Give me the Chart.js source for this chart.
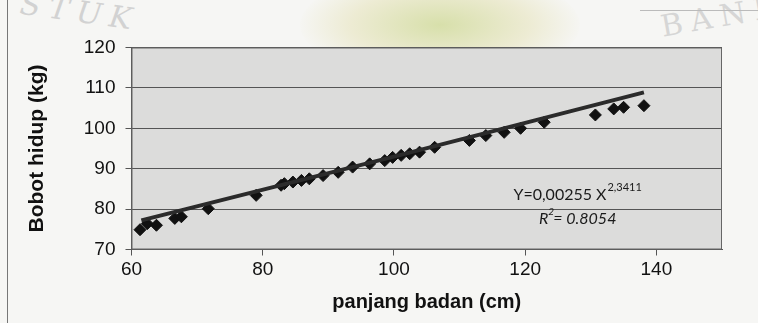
<!DOCTYPE html>
<html>
<head>
<meta charset="utf-8">
<script src="https://cdn.jsdelivr.net/npm/chart.js@4/dist/chart.umd.min.js"></script>
<style>
  html,body{margin:0;padding:0;background:#f6f6f4;}
  #wrap{position:relative;width:758px;height:323px;overflow:hidden;}
  #frame{position:absolute;left:7px;top:0;width:1px;height:323px;background:#777;}
  #wm1{position:absolute;left:20px;top:-6px;font:italic 30px "DejaVu Serif",serif;color:#d2d2d2;letter-spacing:8px;transform:rotate(8deg);}
  #wm2{position:absolute;left:660px;top:-2px;font:30px "DejaVu Serif",serif;color:#d6d6d6;letter-spacing:8px;transform:rotate(-10deg);}
  #wmline{position:absolute;left:640px;top:10px;width:118px;height:1px;background:#bbb;}
  #blob{position:absolute;left:300px;top:-30px;width:280px;height:110px;border-radius:50%;background:radial-gradient(ellipse at center, rgba(190,205,110,0.55) 0%, rgba(220,215,150,0.35) 45%, rgba(246,246,244,0) 72%);}
  canvas{position:absolute;left:0;top:0;}
</style>
</head>
<body>
<div id="wrap">
  <div id="blob"></div>
  <div id="wm1">STUK</div>
  <div id="wm2">BAND</div>
  <div id="wmline"></div>
  <div id="frame"></div>
  <canvas id="c" width="758" height="323"></canvas>
</div>
<script>
// panjang badan (cm)
const panjangBadan = [61.3, 62.4, 63.8, 66.6, 67.6, 71.7, 79.0, 82.8, 83.3, 84.6, 85.9, 87.1, 89.2, 91.5, 93.7, 96.3, 98.6, 99.8, 101.1, 102.4, 103.9, 106.2, 111.5, 114.0, 116.8, 119.3, 122.9, 130.7, 133.5, 135.0, 138.1];
// bobot hidup (kg)
const bobotHidup = [74.9, 76.4, 76.0, 77.7, 78.1, 80.1, 83.4, 85.9, 86.3, 86.7, 87.1, 87.5, 88.3, 89.1, 90.4, 91.2, 92.0, 92.8, 93.3, 93.7, 94.1, 95.3, 97.0, 98.2, 99.0, 100.0, 101.5, 103.3, 104.8, 105.2, 105.6];
// trendline
const trendX = [61.5, 100, 138.1];
const trendY = [77.2, 93.0, 108.9];
const xTicks = [60, 80, 100, 120, 140];
const yTicks = [70, 80, 90, 100, 110, 120];
const equationText = "Y=0,00255 X";
const equationExp = "2,3411";
const r2Text = "= 0.8054";

const pts = panjangBadan.map((x, i) => ({x, y: bobotHidup[i]}));
const trend = trendX.map((x, i) => ({x, y: trendY[i]}));

const FONT = "'Liberation Sans', Arial, sans-serif";
const EQF = "Lato, 'Open Sans', sans-serif";

const bgPlugin = {
  id: 'plotbg',
  beforeDraw(chart) {
    const {ctx, chartArea: a} = chart;
    ctx.save();
    ctx.fillStyle = '#dcdcdb';
    ctx.fillRect(a.left, a.top, a.right - a.left, a.bottom - a.top);
    ctx.restore();
  },
  afterDatasetsDraw(chart) {
    const {ctx, chartArea: a} = chart;
    ctx.save();
    ctx.strokeStyle = '#666';
    ctx.lineWidth = 1;
    ctx.strokeRect(a.left + 0.5, a.top + 0.5, a.right - a.left - 1, a.bottom - a.top - 1);
    ctx.restore();
  }
};

const eqPlugin = {
  id: 'eq',
  afterDatasetsDraw(chart) {
    const {ctx, scales: {x, y}} = chart;
    ctx.save();
    ctx.fillStyle = '#1a1a1a';
    ctx.textBaseline = 'alphabetic';
    ctx.textAlign = 'left';
    const cx = x.getPixelForValue(128);
    ctx.font = "16px " + EQF;
    const w1 = ctx.measureText(equationText).width;
    ctx.font = "11px " + EQF;
    const w2 = ctx.measureText(equationExp).width;
    const start = cx - (w1 + w2 + 1) / 2;
    const y1 = y.getPixelForValue(82.2);
    ctx.font = "16px " + EQF;
    ctx.fillText(equationText, start, y1);
    ctx.font = "11px " + EQF;
    ctx.fillText(equationExp, start + w1 + 1, y1 - 9);
    const y2 = y.getPixelForValue(76.3);
    ctx.font = "italic 16px " + EQF;
    const wr = ctx.measureText('R').width;
    const wrest = ctx.measureText(r2Text).width;
    const s2 = cx - (wr + 5 + wrest) / 2;
    ctx.fillText('R', s2, y2);
    ctx.font = "italic 10px " + EQF;
    ctx.fillText('2', s2 + wr, y2 - 9);
    ctx.font = "italic 16px " + EQF;
    ctx.fillText(r2Text, s2 + wr + 5, y2);
    ctx.restore();
  }
};

new Chart(document.getElementById('c'), {
  type: 'scatter',
  data: {
    datasets: [
      {
        label: 'data',
        data: pts,
        pointStyle: 'rectRot',
        pointRadius: 6,
        pointHoverRadius: 6,
        backgroundColor: '#111',
        borderColor: '#111',
        borderWidth: 1,
        order: 2
      },
      {
        label: 'trend',
        data: trend,
        showLine: true,
        pointRadius: 0,
        borderColor: '#2b2b2b',
        borderWidth: 4,
        tension: 0,
        order: 1
      }
    ]
  },
  options: {
    responsive: false,
    animation: false,
    events: [],
    layout: {padding: {left: 0, right: 36, top: 47.5, bottom: 0}},
    plugins: {legend: {display: false}, tooltip: {enabled: false}},
    scales: {
      x: {
        type: 'linear',
        min: 60, max: 150,
        afterFit(s) { s.height = 73.5; },
        afterBuildTicks(s) { s.ticks = xTicks.map(v => ({value: v})); },
        grid: {display: true, drawOnChartArea: false, drawTicks: true, tickLength: 6, color: '#555', tickColor: '#555'},
        border: {display: true, color: '#555', width: 1},
        ticks: {color: '#111', font: {family: FONT, size: 19}, padding: 3, maxRotation: 0},
        title: {display: true, text: 'panjang badan (cm)', color: '#111', font: {family: FONT, size: 20, weight: 'bold'}, padding: {top: 2, bottom: 9}}
      },
      y: {
        type: 'linear',
        min: 70, max: 120,
        afterFit(s) { s.width = 131.5; },
        afterBuildTicks(s) { s.ticks = yTicks.map(v => ({value: v})); },
        grid: {display: true, drawOnChartArea: true, drawTicks: true, tickLength: 6, color: '#555', tickColor: '#555', lineWidth: 1},
        border: {display: true, color: '#555', width: 1},
        ticks: {color: '#111', font: {family: FONT, size: 19}, padding: 10},
        title: {display: true, text: 'Bobot hidup (kg)', color: '#111', font: {family: FONT, size: 21, weight: 'bold'}, padding: {top: 25, bottom: 0}}
      }
    }
  },
  plugins: [bgPlugin, eqPlugin]
});
</script>
</body>
</html>
